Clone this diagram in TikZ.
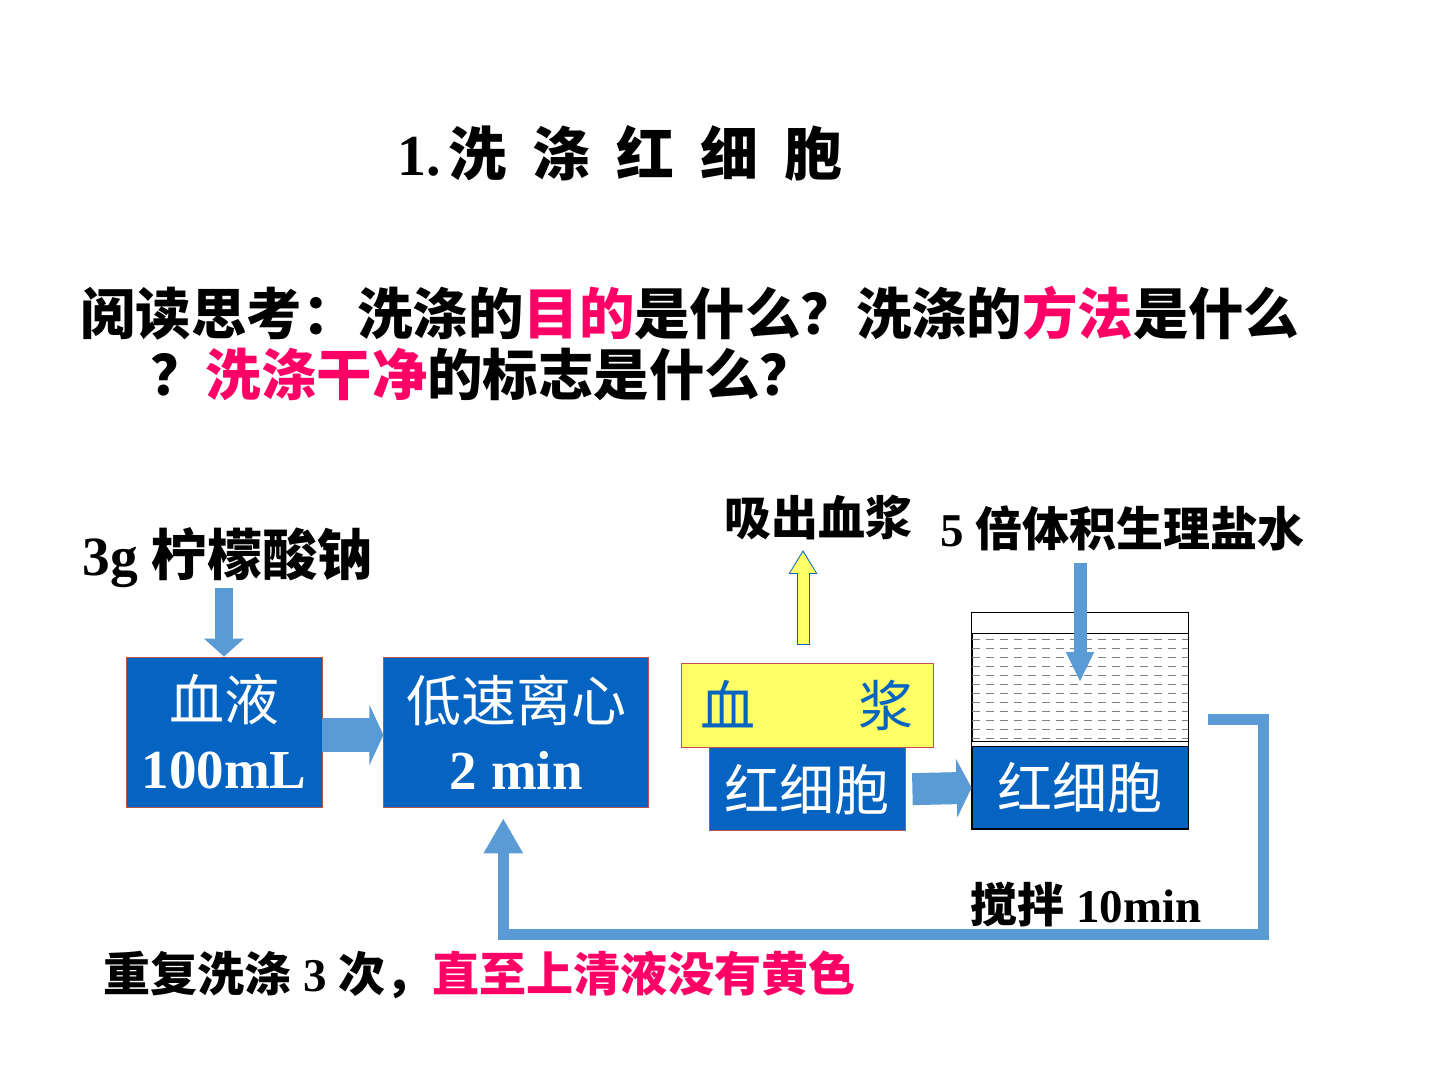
\documentclass[tikz,border=0pt]{standalone}
\usepackage{fontspec}
\setmainfont{Liberation Serif}
\newfontfamily\cjk{Noto Sans CJK SC}
\newfontfamily\latbf{Liberation Serif}[UprightFont={* Bold}, BoldFont={* Bold}]
\usetikzlibrary{arrows.meta,positioning,backgrounds}
\definecolor{boxblue}{HTML}{0563C1}
\definecolor{edge}{HTML}{C0504D}
\definecolor{flowblue}{HTML}{5B9BD5}
\definecolor{plasmayel}{HTML}{FFFF66}
\definecolor{hot}{HTML}{FF0066}
\newcommand\lat[1]{{\latbf #1}}
\begin{document}
\begin{tikzpicture}[x=0.5pt, y=-0.5pt,
    lbl/.style = {inner sep=0pt, font=\cjk\bfseries\fontsize{23.5}{28}\selectfont},
    big/.style = {lbl, font=\cjk\bfseries\fontsize{27.7}{34}\selectfont},
    box/.style = {draw=edge, fill=boxblue, text=white, inner sep=0pt, align=center,
                  font=\cjk\fontsize{27.5}{34}\selectfont},
    flow/.style = {flowblue},
    link/.style = {flowblue, line width=5.5pt, -{Triangle[width=18.5pt,length=17.5pt]}},
    dashline/.style = {gray, line width=0.5pt, dash pattern=on 4pt off 3pt}]
    \fill[white] (0,0) rectangle (1440,1080);
    \useasboundingbox (0,0) rectangle (1440,1080);

    % heading and question
    \node[lbl, anchor=west, font=\cjk\bfseries\fontsize{29}{34}\selectfont] (title) at (397,153)
        {\lat{1.}\hspace{4pt}洗\hspace{13pt}涤\hspace{13pt}红\hspace{13pt}细\hspace{13pt}胞};
    \node[big, anchor=west] (q1) at (80,313) {阅读思考：洗涤的\textcolor{hot}{目的}是什么？洗涤的\textcolor{hot}{方法}是什么};
    \node[big, anchor=west] (q2) at (150,374) {？\textcolor{hot}{洗涤干净}的标志是什么？};

    % labels
    \node[big, anchor=west] (citrate) at (82,558) {\lat{3g }柠檬酸钠};
    \node[lbl] (out) at (818,517) {吸出血浆};
    \node[lbl, anchor=west] (saline) at (940,528) {\lat{5 }倍体积生理盐水};
    \node[lbl, anchor=west] (stir) at (970,904) {搅拌\lat{\ 10min}};
    \node[lbl, anchor=west] (again) at (103,975) {重复洗涤\lat{\ 3 }次，\textcolor{hot}{直至上清液没有黄色}};

    % boxes
    \node[box, minimum width=98pt, minimum height=75pt] (blood) at (224,732) {血液\\\lat{100mL}};
    \node[box, minimum width=132.5pt, minimum height=75pt] (spin) [right=30.5pt of blood] {低速离心\\\lat{2 min}};
    \node[box, fill=plasmayel, text=boxblue, minimum width=126pt, minimum height=42pt] (plasma) at (807,705) {血\hspace{52pt}浆};
    \node[box, minimum width=98pt, minimum height=41.5pt] (rbc) [below=0pt of plasma] {红细胞};

    % beaker
    \node[draw, inner sep=0pt, minimum width=108pt, minimum height=54pt] (liquid) at (1080,687) {};
    \node[box, draw=black, minimum width=108pt, minimum height=41pt] (cells) [below=2.5pt of liquid] {红细胞};
    \draw (cells.south west) rectangle ([yshift=10pt]liquid.north east);
    \foreach \y in {639,648,...,738}
        \draw[dashline] (liquid.west |- 0,\y) -- (liquid.east |- 0,\y);

    % flow arrows
    \draw[flow, line width=9pt, -{Triangle[width=19.5pt,length=9pt]}] (citrate.south -| blood.north) -- (blood.north);
    \draw[flow, line width=17pt, -{Triangle[width=30pt,length=7pt]}] ([yshift=-1.5pt]blood.east) -- ([yshift=-1.5pt]spin.west);
    \begin{scope}[on background layer]
        \draw[flow, line width=26pt, -{Triangle[width=50pt,length=7.5pt]}] ([yshift=-8.5pt]spin.east) -- ([yshift=-8.5pt]spin.east -| rbc.west);
    \end{scope}
    \draw[flow, line width=16pt, -{Triangle[width=29pt,length=7.5pt]}, shorten <=3.5pt] (rbc.east) -- (cells.west);
    \draw[flow, line width=6.5pt, -{Triangle[width=13pt,length=15pt]}, shorten <=6pt, shorten >=2.5pt] (saline.south -| liquid.center) -- (liquid.center);
    \draw[boxblue, line width=6.5pt, -{Triangle[width=13.5pt,length=12pt]}, shorten <=9pt, shorten >=5pt]
        ([xshift=-2pt]plasma.north) -- ([xshift=-2pt]plasma.north |- out.south);
    \draw[plasmayel, line width=5.5pt, -{Triangle[width=12pt,length=10.5pt]}, shorten <=9.5pt, shorten >=6pt]
        ([xshift=-2pt]plasma.north) -- ([xshift=-2pt]plasma.north |- out.south);

    % wash again
    \coordinate (ret) at (1208,719.5);
    \draw[link] (ret) -| (1263.5,934.5) -| ([xshift=-6.5pt,yshift=-5.5pt]spin.south);
\end{tikzpicture}
\end{document}
